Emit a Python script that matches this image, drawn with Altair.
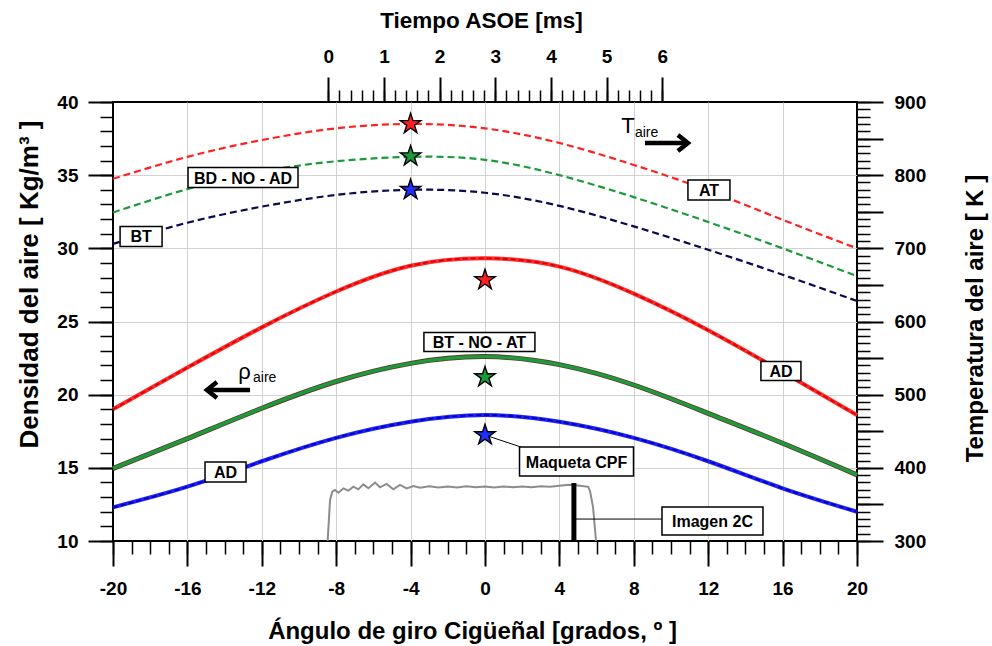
import altair as alt
import pandas as pd

FONT = "Liberation Sans, Arial, sans-serif"

# ---------------- data ----------------
angle = [-20, -16, -12, -8, -4, 0, 4, 8, 12, 16, 20]

# air temperature [K] (right axis, dashed)
T_AT = [795, 825, 848, 864, 870, 864, 844, 814, 779, 739, 700]
T_NO = [749, 781, 805, 819, 825, 821, 800, 770, 736, 700, 662]
T_BT = [706, 735, 757, 773, 780, 776, 758, 730, 698, 664, 628]

# air density [kg/m3] (left axis, solid)
rho_AD_high = [19.0, 21.85, 24.6, 27.05, 28.81, 29.32, 28.75, 26.9, 24.4, 21.55, 18.6]
rho_NO = [14.95, 17.0, 19.07, 20.9, 22.14, 22.6, 22.05, 20.66, 18.72, 16.68, 14.52]
rho_AD_low = [12.3, 13.71, 15.45, 17.05, 18.15, 18.61, 18.15, 17.05, 15.45, 13.6, 12.0]

# CPF model stars
star_T_angle = [-4, -4, -4]
star_T = [870, 826, 780]
star_rho_angle = [0, 0, 0]
star_rho = [27.84, 21.2, 17.24]

# injection / image signal (grey), in left-axis units
sig_angle = [-8.46, -8.33, -8.21, -8.06, -7.88, -7.61, -7.35, -7.08, -6.81, -6.54,
             -6.27, -5.91, -5.65, -5.29, -4.93, -4.57, -4.21, -3.85, -3.49, -3.0,
             -2.5, -2.0, -1.5, -1.0, -0.5, 0.0, 0.5, 1.0, 1.5, 2.0,
             2.5, 3.0, 3.5, 4.0, 4.5, 5.0, 5.55, 5.65, 5.81, 5.97]
sig_rho = [10.0, 12.8, 13.37, 13.49, 13.3, 13.6, 13.44, 13.71, 13.53, 13.87,
           13.6, 13.99, 13.67, 13.9, 13.53, 13.83, 13.6, 13.76, 13.64, 13.74,
           13.66, 13.72, 13.65, 13.74, 13.67, 13.72, 13.66, 13.73, 13.67, 13.72,
           13.68, 13.74, 13.7, 13.78, 13.85, 13.8, 13.7, 13.4, 12.3, 10.0]

# "Imagen 2C" marker
img_angle = [4.78]
img_rho_low = [10.0]
img_rho_high = [13.96]

# annotation labels (data coordinates)
lab_text = ["BD - NO - AD", "BT", "AT", "BT - NO - AT", "AD", "AD", "Maqueta CPF", "Imagen 2C"]
lab_angle = [-13.01, -18.49, 12.04, -0.30, 15.91, -13.95, 4.92, 12.23]
lab_rho = [34.84, 30.81, 33.99, 23.6, 21.62, 14.72, 15.43, 11.37]
box_w = [110, 42, 42, 111, 40, 41, 114, 101]
box_h = [20, 20, 20, 19, 19, 20, 29, 28]

# tick values
x_major = list(range(-20, 21, 4))
x_minor = list(range(-20, 21, 1))
x_grid = list(range(-16, 17, 4))
yl_major = list(range(10, 41, 5))
yl_minor = list(range(10, 41, 1))
yl_grid = list(range(15, 36, 5))
yr_major = list(range(300, 901, 50))
yr_minor = list(range(300, 901, 10))
ms_major = [0, 1, 2, 3, 4, 5, 6]
ms_minor = [round(i * 0.2, 1) for i in range(31)]

# ---------------- scales ----------------
XS = alt.Scale(domain=[-20, 20], nice=False, zero=False)
YL = alt.Scale(domain=[10, 40], nice=False, zero=False)
YR = alt.Scale(domain=[300, 900], nice=False, zero=False)
MS = alt.Scale(domain=[-3.867, 9.497], nice=False, zero=False)

STAR = ("M0,-1L0.2245,-0.309L0.9511,-0.309L0.3633,0.118L0.5878,0.809L0,0.382"
        "L-0.5878,0.809L-0.3633,0.118L-0.9511,-0.309L-0.2245,-0.309Z")


def ex(field="a", scale=XS, axis=None):
    return alt.X(f"{field}:Q", scale=scale, axis=axis)


def ey(field="r", scale=YL, axis=None):
    return alt.Y(f"{field}:Q", scale=scale, axis=axis)


def axis_layer(x_axis=None, y_axis=None, xscale=XS, yscale=YL, xv=0, yv=20):
    df = pd.DataFrame({"a": [xv], "r": [yv]})
    return alt.Chart(df).mark_point(opacity=0).encode(
        x=ex("a", xscale, x_axis), y=ey("r", yscale, y_axis))


LAB = dict(domain=False, tickColor="black", tickWidth=2, labelFont=FONT, labelFontSize=19,
           labelFontWeight="bold", labelColor="black", labelFlush=False, labelOverlap=False,
           titleFont=FONT, titleFontWeight="bold", titleColor="black", grid=False)
MINOR = dict(domain=False, grid=False, labels=False, tickColor="black", tickWidth=1.5, title=None)
GRID = dict(domain=False, grid=True, gridColor="#d2d2d2", gridWidth=1, ticks=False,
            labels=False, title=None)

layers = []

# grids
layers.append(axis_layer(x_axis=alt.Axis(values=x_grid, orient="bottom", **GRID),
                         y_axis=alt.Axis(values=yl_grid, orient="left", **GRID)))
# bottom axis
layers.append(axis_layer(x_axis=alt.Axis(
    orient="bottom", values=x_major, tickSize=25, labelPadding=13,
    labelExpr="'' + datum.value",
    title="Ángulo de giro Cigüeñal [grados, º ]", titleFontSize=24,
    titleX=359, titleY=97, titleAlign="center", titleBaseline="alphabetic", titleAngle=0, **LAB)))
layers.append(axis_layer(x_axis=alt.Axis(orient="bottom", values=x_minor, tickSize=13, **MINOR)))
# left axis
layers.append(axis_layer(y_axis=alt.Axis(
    orient="left", values=yl_major, tickSize=25, labelPadding=10,
    title="Densidad del aire [\u00a0Kg/m³\u00a0]", titleFontSize=26, titleAngle=270,
    titleX=-76, titleY=182, titleAlign="center", titleBaseline="alphabetic", **LAB)))
layers.append(axis_layer(y_axis=alt.Axis(orient="left", values=yl_minor, tickSize=13, **MINOR)))
# right axis
layers.append(axis_layer(yscale=YR, yv=500, y_axis=alt.Axis(
    orient="right", values=yr_major, tickSize=26, labelPadding=11,
    labelExpr="datum.value % 100 === 0 ? datum.label : ''",
    title="Temperatura del aire [ K ]", titleFontSize=24, titleAngle=270,
    titleX=125, titleY=216, titleAlign="center", titleBaseline="alphabetic", **LAB)))
layers.append(axis_layer(yscale=YR, yv=500,
                         y_axis=alt.Axis(orient="right", values=yr_minor, tickSize=13, **MINOR)))
# top axis (time)
layers.append(axis_layer(xscale=MS, xv=2, x_axis=alt.Axis(
    orient="top", values=ms_major, tickSize=25, labelPadding=11,
    title="Tiempo ASOE [ms]", titleFontSize=22.5, titleAngle=0,
    titleX=368, titleY=-75, titleAlign="center", titleBaseline="alphabetic", **LAB)))
layers.append(axis_layer(xscale=MS, xv=2,
                         x_axis=alt.Axis(orient="top", values=ms_minor, tickSize=12, **MINOR)))

# grey signal
sig = pd.DataFrame({"a": sig_angle, "r": sig_rho})
layers.append(alt.Chart(sig).mark_line(color="#8c8c8c", strokeWidth=2).encode(x=ex(), y=ey()))

# temperature dashed lines
for vals, col in [(T_AT, "#ff2020"), (T_NO, "#1a9a3a"), (T_BT, "#0a0a50")]:
    df = pd.DataFrame({"a": angle, "r": vals})
    layers.append(alt.Chart(df).mark_line(color=col, strokeWidth=2.2, strokeDash=[7, 4],
                                          interpolate="natural")
                  .encode(x=ex(), y=ey(scale=YR)))

# density lines
df = pd.DataFrame({"a": angle, "r": rho_AD_high})
layers.append(alt.Chart(df).mark_line(color="#ff2a2a", strokeWidth=4, interpolate="natural")
              .encode(x=ex(), y=ey()))
layers.append(alt.Chart(df).mark_line(color="#d80000", strokeWidth=1.8, strokeDash=[5, 3],
                                      interpolate="natural").encode(x=ex(), y=ey()))
df = pd.DataFrame({"a": angle, "r": rho_NO})
layers.append(alt.Chart(df).mark_line(color="#5a3a30", strokeWidth=5, interpolate="natural")
              .encode(x=ex(), y=ey()))
layers.append(alt.Chart(df).mark_line(color="#1f9a3a", strokeWidth=3.4, interpolate="natural")
              .encode(x=ex(), y=ey()))
df = pd.DataFrame({"a": angle, "r": rho_AD_low})
layers.append(alt.Chart(df).mark_line(color="#2020ff", strokeWidth=4, interpolate="natural")
              .encode(x=ex(), y=ey()))
layers.append(alt.Chart(df).mark_line(color="#0000b0", strokeWidth=1.8, strokeDash=[5, 3],
                                      interpolate="natural").encode(x=ex(), y=ey()))

# image bar + connector
bar = pd.DataFrame({"a": img_angle, "r": img_rho_low, "r2": img_rho_high})
layers.append(alt.Chart(bar).mark_rule(color="black", strokeWidth=5)
              .encode(x=ex(), y=ey(), y2="r2:Q"))
con = pd.DataFrame({"a": img_angle, "a2": [lab_angle[7]], "r": [11.5]})
layers.append(alt.Chart(con).mark_rule(color="black", strokeWidth=1)
              .encode(x=ex(), x2="a2:Q", y=ey()))
# Maqueta connector
con2 = pd.DataFrame({"a": [star_rho_angle[2], 1.94], "r": [star_rho[2], 16.42]})
layers.append(alt.Chart(con2).mark_line(color="black", strokeWidth=1).encode(x=ex(), y=ey()))

# stars
star_cols = ["#ff2020", "#1a9a3a", "#2030ff"]
for i, col in enumerate(star_cols):
    d1 = pd.DataFrame({"a": [star_T_angle[i]], "r": [star_T[i]]})
    layers.append(alt.Chart(d1).mark_point(shape=STAR, filled=True, fill=col, stroke="black",
                                           strokeWidth=1.4, size=460, opacity=1)
                  .encode(x=ex(), y=ey(scale=YR)))
    d2 = pd.DataFrame({"a": [star_rho_angle[i]], "r": [star_rho[i]]})
    layers.append(alt.Chart(d2).mark_point(shape=STAR, filled=True, fill=col, stroke="black",
                                           strokeWidth=1.4, size=460, opacity=1)
                  .encode(x=ex(), y=ey()))

# label boxes
for i, txt in enumerate(lab_text):
    d = pd.DataFrame({"a": [lab_angle[i]], "r": [lab_rho[i]], "t": [txt]})
    h = box_h[i] / box_w[i]
    path = f"M-1,-{h:.4f}L1,-{h:.4f}L1,{h:.4f}L-1,{h:.4f}Z"
    layers.append(alt.Chart(d).mark_point(shape=path, size=box_w[i] ** 2, filled=True,
                                          fill="white", stroke="black", strokeWidth=1.5,
                                          opacity=1)
                  .encode(x=ex(), y=ey()))
    layers.append(alt.Chart(d).mark_text(font=FONT, fontSize=16, fontWeight="bold",
                                         color="black", align="center", baseline="middle", dy=1)
                  .encode(x=ex(), y=ey(), text="t:N"))

# arrows + symbols
arr = pd.DataFrame({"a": [8.60, -12.63], "a2": [10.85, -14.9], "r": [37.2, 20.32]})
layers.append(alt.Chart(arr).mark_rule(color="black", strokeWidth=4.5)
              .encode(x=ex(), x2="a2:Q", y=ey()))
hr = pd.DataFrame({"a": [10.91], "r": [37.2]})
layers.append(alt.Chart(hr).mark_point(shape="M-1,-0.8L0,0L-1,0.8", size=400, filled=False,
                                       stroke="black", strokeWidth=4.5, strokeJoin="miter",
                                       opacity=1).encode(x=ex(), y=ey()))
hl = pd.DataFrame({"a": [-14.95], "r": [20.32]})
layers.append(alt.Chart(hl).mark_point(shape="M1,-0.8L0,0L1,0.8", size=400, filled=False,
                                       stroke="black", strokeWidth=4.5, strokeJoin="miter",
                                       opacity=1).encode(x=ex(), y=ey()))

sym = pd.DataFrame({"a": [7.69, -12.93], "r": [37.88, 21.07], "t": ["T", "ρ"]})
layers.append(alt.Chart(sym).mark_text(font=FONT, fontSize=22, color="black", align="center",
                                       baseline="alphabetic").encode(x=ex(), y=ey(), text="t:N"))
sub = pd.DataFrame({"a": [8.06, -12.47], "r": [37.6, 20.87], "t": ["aire", "aire"]})
layers.append(alt.Chart(sub).mark_text(font=FONT, fontSize=14, color="black", align="left",
                                       baseline="alphabetic").encode(x=ex(), y=ey(), text="t:N"))

chart = (alt.layer(*layers)
         .resolve_scale(x="independent", y="independent")
         .properties(width=744, height=439,
                     autosize=alt.AutoSizeParams(type="none"),
                     padding={"left": 113, "top": 102, "right": 135, "bottom": 105},
                     background="white")
         .configure_view(stroke="black", strokeWidth=2))

chart.save("out.html", embed_options={"renderer": "svg", "actions": False})
